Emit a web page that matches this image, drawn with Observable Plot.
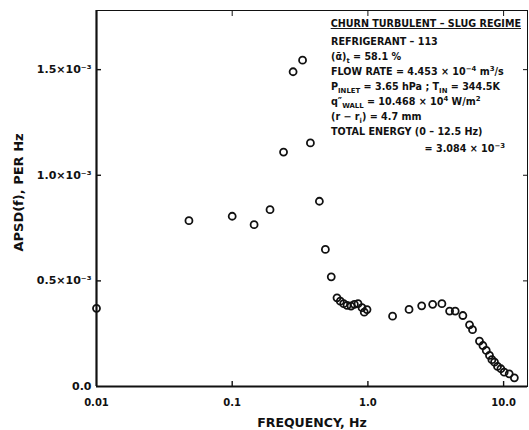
<!DOCTYPE html>
<html>
<head>
<meta charset="utf-8">
<script src="https://cdn.jsdelivr.net/npm/d3@7"></script>
<script src="https://cdn.jsdelivr.net/npm/@observablehq/plot@0.6"></script>
<style>
  html, body { margin: 0; padding: 0; background: #fff; }
  #chart svg { display: block; }
</style>
</head>
<body>
<div id="chart"></div>
<script>
// Auto power spectral density of the void-fraction signal, churn turbulent / slug flow
const frequency = [0.01, 0.048, 0.1, 0.145, 0.19, 0.239, 0.281, 0.330, 0.377, 0.439,
  0.486, 0.537, 0.592, 0.626, 0.663, 0.702, 0.751, 0.795, 0.846, 0.905,
  0.94, 0.985, 1.52, 2.01, 2.49, 3.0, 3.51, 4.0, 4.40, 5.01,
  5.61, 5.90, 6.64, 7.04, 7.45, 7.87, 8.20, 8.57, 9.02, 9.55,
  10.1, 11.0, 12.0];
// APSD values in units of 10^-3 per Hz
const apsdE3 = [0.37, 0.785, 0.806, 0.766, 0.837, 1.11, 1.49, 1.545, 1.153, 0.877,
  0.649, 0.519, 0.42, 0.404, 0.392, 0.384, 0.381, 0.389, 0.392, 0.373,
  0.352, 0.364, 0.333, 0.365, 0.382, 0.389, 0.392, 0.357, 0.357, 0.336,
  0.292, 0.269, 0.215, 0.194, 0.171, 0.147, 0.127, 0.115, 0.095, 0.084,
  0.068, 0.060, 0.041];

const xTicks = [0.01, 0.1, 1, 10];
const xTickLabels = ["0.01", "0.1", "1.0", "10.0"];
const yTicks = [0, 0.5e-3, 1.0e-3, 1.5e-3];
const yTickLabels = ["0.0", "0.5×10⁻³", "1.0×10⁻³", "1.5×10⁻³"];
const xLabel = "FREQUENCY, Hz";
const yLabel = "APSD(f), PER Hz";

const noteTitle = "CHURN TURBULENT – SLUG REGIME";
// each line: list of [text, "sup" | "sub" | undefined]
const noteLines = [
  [["REFRIGERANT – 113"]],
  [["(α\u0304)"], ["t", "sub"], [" = 58.1 %"]],
  [["FLOW RATE = 4.453 × 10"], ["−4", "sup"], [" m"], ["3", "sup"], ["/s"]],
  [["P"], ["INLET", "sub"], [" = 3.65 hPa ; T"], ["IN", "sub"], [" = 344.5K"]],
  [["q″"], ["WALL", "sub"], [" = 10.468 × 10"], ["4", "sup"], [" W/m"], ["2", "sup"]],
  [["(r − r"], ["i", "sub"], [") = 4.7 mm"]],
  [["TOTAL ENERGY (0 – 12.5 Hz)"]]
];
const noteResult = [["= 3.084 × 10"], ["−3", "sup"]];

const points = frequency.map((f, i) => ({f, apsd: apsdE3[i] * 1e-3}));
const xLabelOf = new Map(xTicks.map((t, i) => [t, xTickLabels[i]]));
const yLabelOf = new Map(yTicks.map((t, i) => [t, yTickLabels[i]]));

const ink = "#111";
const font = "'DejaVu Sans', sans-serif";

function writeSegments(textSel, segments, size) {
  let shift = 0;
  for (const [str, kind] of segments) {
    const target = kind === "sup" ? -4 : kind === "sub" ? 3 : 0;
    textSel.append("tspan")
      .attr("dy", target - shift)
      .attr("font-size", kind ? size * 0.72 : size)
      .text(str);
    shift = target;
  }
}

// Parameter block in the upper right of the frame
function noteBlock(index, scales, values, dims) {
  const right = dims.width - dims.marginRight;
  const top = dims.marginTop;
  const size = 9.6;
  const g = d3.create("svg:g")
    .attr("font-family", font)
    .attr("font-weight", "bold")
    .attr("text-anchor", "start")
    .attr("fill", ink);
  g.append("text")
    .attr("x", right - 6).attr("y", top + 17)
    .attr("text-anchor", "end")
    .attr("font-size", size)
    .style("text-decoration", "underline")
    .text(noteTitle);
  const left = right - 196;
  noteLines.forEach((line, i) => {
    const t = g.append("text")
      .attr("x", left).attr("y", top + 35 + i * 15)
      .attr("text-anchor", "start")
      .attr("font-size", size);
    writeSegments(t, line, size);
  });
  const r = g.append("text")
    .attr("x", right - 22).attr("y", top + 35 + noteLines.length * 15 + 2)
    .attr("text-anchor", "end")
    .attr("font-size", size);
  writeSegments(r, noteResult, size);
  return g.node();
}

const chart = Plot.plot({
  width: 529,
  height: 430,
  marginLeft: 96,
  marginRight: 2,
  marginTop: 10,
  marginBottom: 44,
  style: {fontFamily: font, fontSize: "10px", fontWeight: "bold", color: ink, background: "#fff"},
  x: {type: "log", domain: [0.01, 15]},
  y: {domain: [0, 1.78e-3]},
  marks: [
    Plot.frame({stroke: ink, strokeWidth: 1}),
    Plot.ruleX([xTicks[0]], {stroke: ink, strokeWidth: 2.2}),
    Plot.ruleY([yTicks[0]], {stroke: ink, strokeWidth: 2.2}),
    // inward tick marks
    Plot.axisX({ticks: xTicks.slice(1), tickSize: -5, tickFormat: () => "", label: null, strokeWidth: 1.4}),
    Plot.axisX({anchor: "top", ticks: xTicks.slice(1), tickSize: -5, tickFormat: () => "", label: null}),
    Plot.axisY({ticks: yTicks.slice(1), tickSize: -5, tickFormat: () => "", label: null, strokeWidth: 1.4}),
    Plot.axisY({anchor: "right", ticks: yTicks.slice(1), tickSize: -5, tickFormat: () => "", label: null}),
    // tick labels
    Plot.axisX({ticks: xTicks, tickSize: 0, tickPadding: 12, tickFormat: d => xLabelOf.get(d), label: null, fontSize: 10}),
    Plot.axisY({ticks: yTicks, tickSize: 0, tickPadding: 5, tickFormat: d => yLabelOf.get(d), label: null, fontSize: 11}),
    // axis titles
    Plot.text([xLabel], {frameAnchor: "bottom", dy: 40, fontSize: 12.5, fontWeight: "bold", letterSpacing: "0.6px", fill: ink}),
    Plot.text([yLabel], {frameAnchor: "left", textAnchor: "middle", dx: -78, dy: -6, rotate: -90, fontSize: 13, fontWeight: "bold", fill: ink}),
    Plot.dot(points, {x: "f", y: "apsd", r: 3.5, stroke: ink, strokeWidth: 1.8, fill: "none"}),
    noteBlock
  ]
});

document.getElementById("chart").append(chart);
</script>
</body>
</html>
